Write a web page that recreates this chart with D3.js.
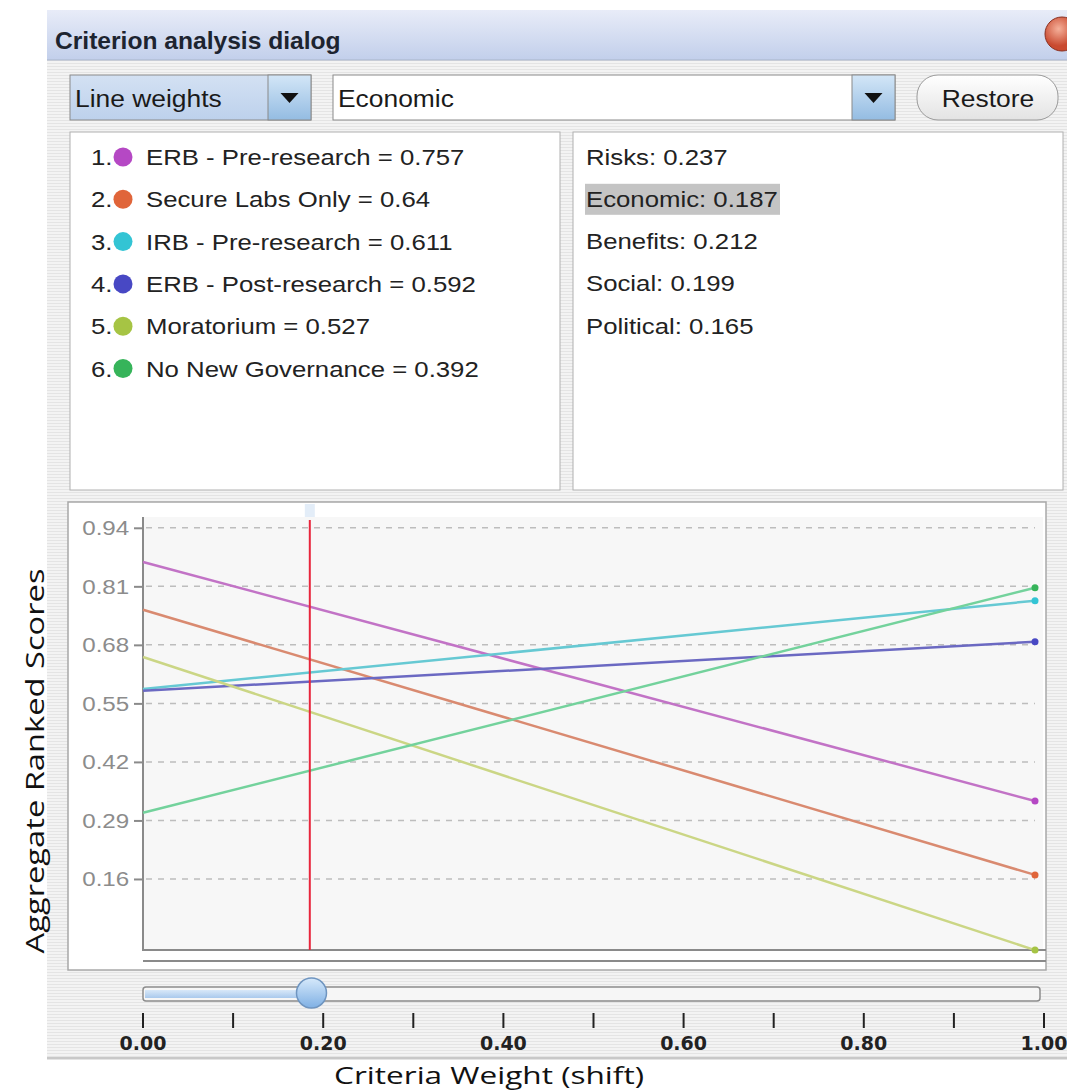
<!DOCTYPE html>
<html>
<head>
<meta charset="utf-8">
<script src="https://cdn.jsdelivr.net/npm/d3@7"></script>
<style>
  body { margin: 0; background: #fff; }
  svg { display: block; }
</style>
</head>
<body>
<svg id="chart" width="1067" height="1092" font-family="'Liberation Sans', Arial, sans-serif"></svg>
<script>
// alternatives and their scores at the current weight
const alternatives = ["ERB - Pre-research", "Secure Labs Only", "IRB - Pre-research", "ERB - Post-research", "Moratorium", "No New Governance"];
const altScores = ["0.757", "0.64", "0.611", "0.592", "0.527", "0.392"];
const dotColors = ["#b548c4", "#e0653a", "#33c4d4", "#4848c4", "#a6c444", "#36b45a"];
const lineColors = ["#c273c6", "#d98a70", "#66c9d3", "#6b69c2", "#cbd685", "#73d29c"];
// score at weight 0 and weight 1
const startValues = [0.864, 0.758, 0.582, 0.578, 0.653, 0.307];
const endValues = [0.333, 0.169, 0.778, 0.687, 0.002, 0.807];

const criteria = ["Risks", "Economic", "Benefits", "Social", "Political"];
const criteriaWeights = ["0.237", "0.187", "0.212", "0.199", "0.165"];
const selectedCriterion = "Economic";
const selectedWeight = 0.187;

const yTicks = [0.94, 0.81, 0.68, 0.55, 0.42, 0.29, 0.16];
const sliderTicks = [0, 0.1, 0.2, 0.3, 0.4, 0.5, 0.6, 0.7, 0.8, 0.9, 1.0];
const sliderLabels = [0, 0.2, 0.4, 0.6, 0.8, 1.0];

const svg = d3.select("#chart");
const defs = svg.append("defs");

// striped dialog background
const stripes = defs.append("pattern")
  .attr("id", "stripes").attr("width", 6).attr("height", 3)
  .attr("patternUnits", "userSpaceOnUse");
stripes.append("rect").attr("width", 6).attr("height", 3).attr("fill", "#f3f3f3");
stripes.append("rect").attr("width", 6).attr("height", 1).attr("fill", "#e4e4e4");

const grad = (id, stops) => {
  const g = defs.append("linearGradient").attr("id", id)
    .attr("x1", 0).attr("y1", 0).attr("x2", 0).attr("y2", 1);
  stops.forEach(s => g.append("stop").attr("offset", s[0]).attr("stop-color", s[1]));
};
grad("titleGrad", [[0, "#e8ecf8"], [1, "#c2cfeb"]]);
grad("comboGrad", [[0, "#d3e1f3"], [1, "#bdd1ec"]]);
grad("arrowGrad", [[0, "#d3e6f7"], [1, "#94bce2"]]);
grad("btnGrad", [[0, "#ffffff"], [1, "#e3e3e3"]]);
grad("knobGrad", [[0, "#d6e9fb"], [1, "#7fb0e4"]]);
grad("fillGrad", [[0, "#d8e8f8"], [1, "#a9c9ec"]]);
const rg = defs.append("radialGradient").attr("id", "closeGrad").attr("cx", 0.4).attr("cy", 0.35);
rg.append("stop").attr("offset", 0).attr("stop-color", "#f5b09a");
rg.append("stop").attr("offset", 1).attr("stop-color", "#c94a30");

// text stretched a little wider, as in the screenshot
const wideText = (sel, x, y, k) => sel.attr("transform", `translate(${x},${y}) scale(${k},1)`);

svg.append("rect").attr("x", 47).attr("y", 10).attr("width", 1020).attr("height", 1050)
  .attr("fill", "url(#stripes)");

// title bar
svg.append("rect").attr("x", 47).attr("y", 10).attr("width", 1020).attr("height", 50)
  .attr("fill", "url(#titleGrad)");
svg.append("line").attr("x1", 47).attr("x2", 1067).attr("y1", 60).attr("y2", 60)
  .attr("stroke", "#a9b4c9");
svg.append("text").text("Criterion analysis dialog")
  .attr("font-size", 23).attr("font-weight", "bold").attr("fill", "#1d2430")
  .call(wideText, 55, 49, 1.07);
svg.append("circle").attr("cx", 1062).attr("cy", 34).attr("r", 17)
  .attr("fill", "url(#closeGrad)").attr("stroke", "#8a3020");

// dropdowns
const combo = (x, w, label, fill) => {
  svg.append("rect").attr("x", x).attr("y", 75).attr("width", w).attr("height", 45)
    .attr("fill", fill).attr("stroke", "#8a8a8a");
  svg.append("rect").attr("x", x + w - 43).attr("y", 75).attr("width", 43).attr("height", 45)
    .attr("fill", "url(#arrowGrad)").attr("stroke", "#8a8a8a");
  const ax = x + w - 21.5;
  svg.append("path").attr("d", `M${ax - 9},93 L${ax + 9},93 L${ax},103 Z`).attr("fill", "#111");
  svg.append("text").text(label)
    .attr("font-size", 24).attr("fill", "#1a1a1a")
    .call(wideText, x + 5, 107, 1.1);
};
combo(70, 241, "Line weights", "url(#comboGrad)");
combo(333, 562, selectedCriterion, "#fff");

svg.append("rect").attr("x", 917).attr("y", 75).attr("width", 141).attr("height", 45)
  .attr("rx", 21).attr("fill", "url(#btnGrad)").attr("stroke", "#9a9a9a");
svg.append("text").attr("text-anchor", "middle")
  .text("Restore").attr("font-size", 24).attr("fill", "#1a1a1a")
  .call(wideText, 988, 107, 1.1);

// list panels
svg.append("rect").attr("x", 70).attr("y", 132).attr("width", 490).attr("height", 358)
  .attr("fill", "#fff").attr("stroke", "#b0b0b0");
svg.append("rect").attr("x", 573).attr("y", 132).attr("width", 490).attr("height", 358)
  .attr("fill", "#fff").attr("stroke", "#b0b0b0");

const rowY = d3.scaleLinear().domain([0, 1]).range([157, 199.3]);

const altRows = svg.append("g").selectAll("g")
  .data(alternatives).enter().append("g")
  .attr("transform", (d, i) => `translate(0,${rowY(i)})`);
altRows.append("text").text((d, i) => `${i + 1}.`)
  .attr("font-size", 23).attr("fill", "#222")
  .call(wideText, 91, 8, 1.12);
altRows.append("circle").attr("cx", 123).attr("cy", 0).attr("r", 9.5)
  .attr("fill", (d, i) => dotColors[i]);
altRows.append("text")
  .text((d, i) => `${d} = ${altScores[i]}`)
  .attr("font-size", 23).attr("fill", "#222")
  .call(wideText, 146, 8, 1.12);

const critRows = svg.append("g").selectAll("g")
  .data(criteria).enter().append("g")
  .attr("transform", (d, i) => `translate(0,${rowY(i) - 0.5})`);
critRows.filter(d => d === selectedCriterion).append("rect")
  .attr("x", 585).attr("y", -15).attr("width", 195).attr("height", 31).attr("fill", "#c4c4c4");
critRows.append("text")
  .text((d, i) => `${d}: ${criteriaWeights[i]}`)
  .attr("font-size", 23).attr("fill", "#222")
  .call(wideText, 586, 8, 1.12);

// chart panel
svg.append("rect").attr("x", 68).attr("y", 502).attr("width", 978).attr("height", 468)
  .attr("fill", "#fff").attr("stroke", "#a8a8a8").attr("stroke-width", 1.5);

const x = d3.scaleLinear().domain([0, 1]).range([143, 1035]);
const y = d3.scaleLinear().domain([0, 0.964]).range([951, 517]);

svg.append("rect").attr("x", 143).attr("y", 517).attr("width", 900).attr("height", 434)
  .attr("fill", "#f7f7f7");

const yAxis = svg.append("g").attr("transform", "translate(143,0)")
  .call(d3.axisLeft(y).tickValues(yTicks).tickFormat(d3.format(".2f")).tickSize(9));
yAxis.select(".domain").remove();
yAxis.selectAll(".tick line").attr("stroke", "#8a8a8a").attr("stroke-width", 2);
yAxis.selectAll(".tick text").attr("font-size", 21).attr("fill", "#8c8c8c")
  .attr("font-family", "'Liberation Sans', Arial, sans-serif")
  .attr("x", -12).attr("transform", "scale(1.15,1)");

svg.append("g").selectAll("line").data(yTicks).enter().append("line")
  .attr("x1", 146).attr("x2", 1035).attr("y1", d => y(d)).attr("y2", d => y(d))
  .attr("stroke", "#bdbdbd").attr("stroke-width", 1.5).attr("stroke-dasharray", "6,6");

svg.append("line").attr("x1", 143).attr("x2", 143).attr("y1", 517).attr("y2", 951)
  .attr("stroke", "#8a8a8a").attr("stroke-width", 2);
svg.append("line").attr("x1", 143).attr("x2", 1046).attr("y1", 950).attr("y2", 950)
  .attr("stroke", "#8a8a8a").attr("stroke-width", 2);
svg.append("line").attr("x1", 143).attr("x2", 1046).attr("y1", 961).attr("y2", 961)
  .attr("stroke", "#8a8a8a").attr("stroke-width", 2);

// alternative lines
const lines = svg.append("g").selectAll("g").data(alternatives).enter().append("g");
lines.append("line")
  .attr("x1", x(0)).attr("y1", (d, i) => y(startValues[i]))
  .attr("x2", x(1)).attr("y2", (d, i) => y(endValues[i]))
  .attr("stroke", (d, i) => lineColors[i]).attr("stroke-width", 2.5);
lines.append("circle").attr("cx", x(1)).attr("cy", (d, i) => y(endValues[i])).attr("r", 3.5)
  .attr("fill", (d, i) => dotColors[i]);

// current weight marker
svg.append("rect").attr("x", x(selectedWeight) - 5).attr("y", 504).attr("width", 10).attr("height", 13)
  .attr("fill", "#e3edf8");
svg.append("line").attr("x1", x(selectedWeight)).attr("x2", x(selectedWeight))
  .attr("y1", 520).attr("y2", 950)
  .attr("stroke", "#e8263c").attr("stroke-width", 2);

// slider
const s = d3.scaleLinear().domain([0, 1]).range([143, 1044]);
svg.append("rect").attr("x", s(0)).attr("y", 987).attr("width", s(1) - s(0) - 4).attr("height", 14)
  .attr("rx", 3).attr("fill", "#f6f6f6").attr("stroke", "#8c8c8c").attr("stroke-width", 1.5);
svg.append("rect").attr("x", s(0) + 2).attr("y", 990).attr("width", s(selectedWeight) - s(0)).attr("height", 8)
  .attr("fill", "url(#fillGrad)");
svg.append("circle").attr("cx", s(selectedWeight)).attr("cy", 993).attr("r", 15)
  .attr("fill", "url(#knobGrad)").attr("stroke", "#6f95c0").attr("stroke-width", 1.5);

const sAxis = svg.append("g").attr("transform", "translate(0,1013)");
sAxis.selectAll("line").data(sliderTicks).enter().append("line")
  .attr("x1", d => s(d)).attr("x2", d => s(d)).attr("y1", 0).attr("y2", 15)
  .attr("stroke", "#222").attr("stroke-width", 2);
sAxis.selectAll("text").data(sliderLabels).enter().append("text")
  .attr("x", d => s(d)).attr("y", 37).attr("text-anchor", "middle")
  .text(d3.format(".2f"))
  .attr("font-family", "'DejaVu Sans', Tahoma, sans-serif")
  .attr("font-size", 19).attr("font-weight", "bold").attr("fill", "#222");

svg.append("line").attr("x1", 47).attr("x2", 1067).attr("y1", 1058).attr("y2", 1058)
  .attr("stroke", "#c8c8c8").attr("stroke-width", 2);

// axis titles
svg.append("text").attr("x", 489).attr("y", 1084).attr("text-anchor", "middle")
  .text("Criteria Weight (shift)").attr("font-family", "'Open Sans', sans-serif")
  .attr("font-size", 24).attr("fill", "#111")
  .attr("textLength", 310).attr("lengthAdjust", "spacingAndGlyphs");
svg.append("text").attr("transform", "translate(44,761) rotate(-90)").attr("text-anchor", "middle")
  .text("Aggregate Ranked Scores").attr("font-family", "'Open Sans', sans-serif")
  .attr("font-size", 25).attr("fill", "#111")
  .attr("textLength", 385).attr("lengthAdjust", "spacingAndGlyphs");
</script>
</body>
</html>
